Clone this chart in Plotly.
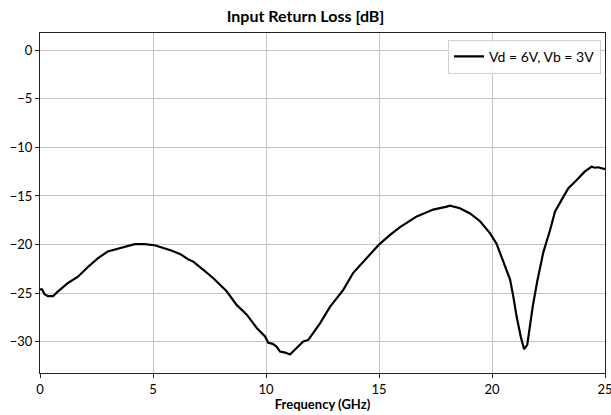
import plotly.graph_objects as go

freq_ghz = [0.0, 0.09, 0.2, 0.35, 0.58, 0.8, 1.24, 1.68, 2.12, 2.57, 3.0, 3.58, 4.19, 4.63, 5.07,
            5.81, 6.19, 6.55, 6.78, 7.23, 7.67, 8.26, 8.7, 9.15, 9.6, 9.96, 10.1, 10.3, 10.47, 10.62,
            10.85, 11.06, 11.28, 11.5, 11.65, 11.87, 12.1, 12.39, 12.83, 13.42, 13.86, 14.45, 15.0,
            15.49, 15.93, 16.67, 17.4, 18.0, 18.14, 18.58, 19.03, 19.47, 19.9, 20.2, 20.42, 20.8,
            20.94, 21.09, 21.27, 21.42, 21.56, 21.68, 21.8, 22.0, 22.27, 22.57, 22.79, 23.08, 23.38,
            23.75, 24.1, 24.4, 24.55, 24.7, 25.0]
return_loss_db = [-24.6, -24.6, -25.1, -25.3, -25.3, -24.8, -23.95, -23.3, -22.3, -21.4, -20.7, -20.3,
                  -19.95, -19.95, -20.07, -20.6, -20.96, -21.5, -21.75, -22.6, -23.46, -24.8, -26.2,
                  -27.2, -28.6, -29.45, -30.1, -30.2, -30.5, -31.0, -31.1, -31.3, -30.8, -30.3, -29.97,
                  -29.8, -29.1, -28.1, -26.4, -24.66, -22.9, -21.4, -20.0, -19.0, -18.2, -17.1, -16.4,
                  -16.1, -16.0, -16.27, -16.8, -17.6, -18.8, -19.9, -21.2, -23.6, -25.3, -27.4, -29.45,
                  -30.75, -30.3, -28.1, -26.4, -23.8, -20.8, -18.5, -16.6, -15.4, -14.2, -13.36, -12.5,
                  -12.0, -12.1, -12.05, -12.25]

x_ticks = [0, 5, 10, 15, 20, 25]
y_ticks = [0, -5, -10, -15, -20, -25, -30]

FONT = "Lato"

fig = go.Figure()
fig.add_trace(go.Scatter(
    x=freq_ghz, y=return_loss_db, mode="lines",
    line=dict(color="black", width=2.2),
    name="Vd = 6V, Vb = 3V",
))

axis_common = dict(
    showgrid=True, gridcolor="#c4c4c4", gridwidth=1,
    showline=True, linecolor="#222222", linewidth=1, mirror=True,
    ticks="outside", ticklen=4, tickcolor="#222222",
    zeroline=False, automargin=False, ticklabeloverflow="allow",
    tickfont=dict(family=FONT, size=13, color="black"),
)

fig.update_layout(
    width=611, height=415,
    margin=dict(l=40, r=6, t=33, b=42),
    paper_bgcolor="white", plot_bgcolor="white",
    title=dict(text="<b>Input Return Loss [dB]</b>", x=0.5, xanchor="center",
               y=1 - 16 / 415, yanchor="middle",
               font=dict(family=FONT, size=16, color="black")),
    xaxis=dict(range=[0, 25], tickvals=x_ticks,
               title=dict(text="<b>Frequency (GHz)</b>", standoff=4,
                          font=dict(family=FONT, size=13, color="black")),
               **axis_common),
    yaxis=dict(range=[-33.2, 1.75], tickvals=y_ticks, **axis_common),
    showlegend=True,
    legend=dict(x=0.993, y=0.98, xanchor="right", yanchor="top",
                bgcolor="rgba(255,255,255,0.9)", bordercolor="#d0d0d0", borderwidth=1,
                font=dict(family=FONT, size=14, color="black")),
)

fig.write_html(
    "out.html",
    config={"displayModeBar": False},
    post_script="document.body.style.margin='0';document.body.style.overflow='hidden';",
)
